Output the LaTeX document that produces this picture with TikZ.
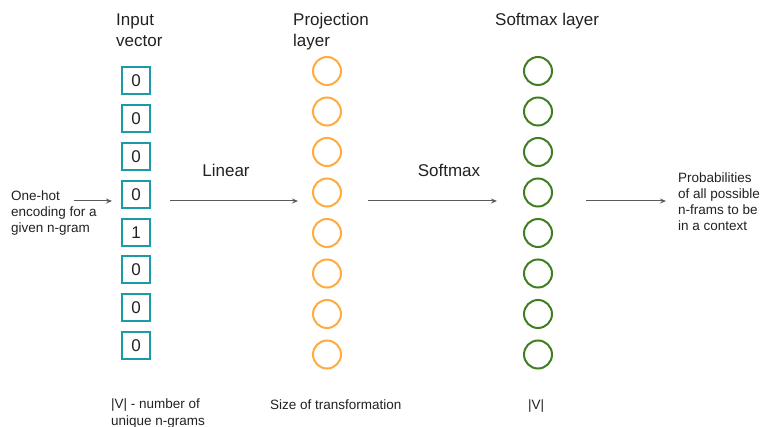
\documentclass[tikz,border=0pt]{standalone}
\usepackage{fontspec}
\setmainfont{Liberation Sans}
\usetikzlibrary{arrows.meta}
\definecolor{boxteal}{HTML}{1A9BA5}
\definecolor{projorange}{HTML}{FFAB40}
\definecolor{softgreen}{HTML}{3F7F22}
\definecolor{arrowgray}{HTML}{5A5A5A}
\definecolor{txt}{HTML}{222222}
\tikzset{
  inbox/.style={draw=boxteal, line width=2pt, minimum width=28pt, minimum height=27pt, inner sep=0pt, font=\fontsize{17}{20}\selectfont, text=txt},
  projcirc/.style={circle, draw=projorange, line width=2pt, minimum size=28pt, inner sep=0pt},
  softcirc/.style={circle, draw=softgreen, line width=2pt, minimum size=28pt, inner sep=0pt},
  head/.style={anchor=base west, inner sep=0pt, align=left, font=\fontsize{17}{20.5}\selectfont, text=txt},
  small/.style={anchor=base west, inner sep=0pt, align=left, font=\fontsize{13.5}{16.3}\selectfont, text=txt},
  flow/.style={draw=arrowgray, line width=1pt, -{Stealth[length=6pt,width=5pt]}}
}
\begin{document}
\begin{tikzpicture}[x=1pt,y=-1pt]
\useasboundingbox (0,0) rectangle (762,427);
\fill[white] (0,0) rectangle (762,427);
% headings (base anchor = baseline of last line)
\node[head] (hin) at (116,46.5) {Input\\vector};
\node[head] (hproj) at (293,46.5) {Projection\\layer};
\node[head] (hsoft) at (495,26) {Softmax layer};
% input boxes
\foreach \v [count=\i] in {0,0,0,0,1,0,0,0} {
  \node[inbox] (b\i) at (136,{81+37.8*(\i-1)}) {\v};
}
% projection and softmax circles
\foreach \i in {1,...,8} {
  \node[projcirc] (p\i) at (327,{71+40.5*(\i-1)}) {};
  \node[softcirc] (s\i) at (538,{71+40.5*(\i-1)}) {};
}
% side labels
\node[small] (onehot) at (11,233) {One-hot\\encoding for a\\given n-gram};
\node[small] (prob) at (678,231) {Probabilities\\of all possible\\n-frams to be\\in a context};
\node[head, anchor=base] (lin) at (226,177) {Linear};
\node[head, anchor=base] (smx) at (449,177) {Softmax};
% bottom labels
\node[small] (bin) at (111,425) {|V| - number of\\unique n-grams};
\node[small] (bproj) at (270,409) {Size of transformation};
\node[small] (bsoft) at (528,409) {|V|};
% arrow end points
\coordinate (a0s) at (74,201);
\coordinate (a0e) at (112,201);
\coordinate (a1s) at (170,201);
\coordinate (a1e) at (298,201);
\coordinate (a2s) at (368,201);
\coordinate (a2e) at (497,201);
\coordinate (a3s) at (586,201);
\coordinate (a3e) at (666,201);
\draw[flow] (a0s) -- (a0e);
\draw[flow] (a1s) -- (a1e);
\draw[flow] (a2s) -- (a2e);
\draw[flow] (a3s) -- (a3e);
\end{tikzpicture}
\end{document}
